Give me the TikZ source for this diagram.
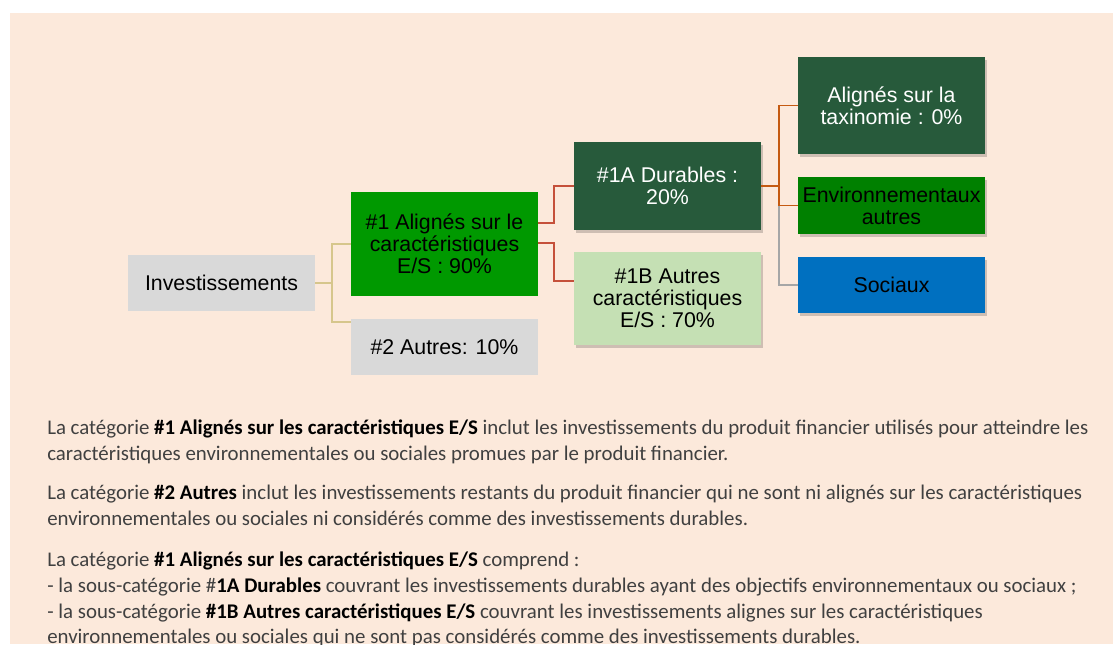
\documentclass[tikz,border=0pt]{standalone}
\usepackage{fontspec}
\setmainfont{Liberation Sans}
\newfontfamily\calibri{Carlito}
\usetikzlibrary{shadows,calc}
\definecolor{bg}{HTML}{FCE9DB}
\definecolor{boxgray}{HTML}{D9D9D9}
\definecolor{greenA}{HTML}{009900}
\definecolor{darkgreen}{HTML}{275A3B}
\definecolor{lightgreen}{HTML}{C5E0B4}
\definecolor{envgreen}{HTML}{008000}
\definecolor{socblue}{HTML}{0070C0}
\definecolor{tanline}{HTML}{D6C68C}
\definecolor{redline}{HTML}{C5503A}
\definecolor{orangeline}{HTML}{C55A11}
\definecolor{grayline}{HTML}{A6A6A6}
\definecolor{txt}{HTML}{404040}
\tikzset{
  boxbase/.style={rectangle, minimum width=140.25pt, inner sep=0pt, align=center,
    font=\fontsize{16}{16.5}\selectfont},
  shad/.style={drop shadow={shadow xshift=1.2pt, shadow yshift=-2.5pt, fill=black, opacity=0.18}},
  conn/.style={line width=1.35pt},
  para/.style={anchor=base west, inner sep=0pt, text=txt, font=\calibri\fontsize{15.65}{19.5}\selectfont},
}
\newcommand{\bb}[1]{{\bfseries\color{black}#1}}
\begin{document}
\begin{tikzpicture}[x=0.75pt,y=-0.75pt]
\useasboundingbox (0,0) rectangle (1113,644);
\fill[white] (0,0) rectangle (1113,644);
\fill[bg] (10,13) rectangle (1113,644);

% nodes
\node[boxbase, fill=boxgray, minimum height=42pt] (inv) at (221.5,283) {Investissements};
\node[boxbase, fill=greenA, minimum height=78pt] (a1) at (444.5,244) {\#1 Alignés sur le\\caractéristiques\\E/S : 90\%};
\node[boxbase, fill=boxgray, minimum height=42pt] (a2) at (444.5,347) {\#2 Autres: 10\%};
\node[boxbase, shad, fill=darkgreen, text=white, minimum height=66pt] (d1a) at (667.5,186) {\#1A Durables :\\20\%};
\node[boxbase, shad, fill=lightgreen, minimum height=69.75pt] (d1b) at (667.5,298.5) {\#1B Autres\\caractéristiques\\E/S : 70\%};
\node[boxbase, shad, fill=darkgreen, text=white, minimum height=72.75pt] (tax) at (891.5,105.5) {Alignés sur la\\taxinomie : 0\%};
\node[boxbase, shad, fill=envgreen, minimum height=42.75pt] (env) at (891.5,205.5) {Environnementaux\\autres};
\node[boxbase, shad, fill=socblue, minimum height=42pt] (soc) at (891.5,285) {Sociaux};

% connectors
\coordinate (j1) at ($(inv.east)+(17,0)$);
\draw[conn, tanline] (inv.east) -- (j1) |- (a1.west);
\draw[conn, tanline] (j1) |- ($(a2.north west)+(0,3)$);

\coordinate (j2) at ($(a1.east)+(16,0)$);
\draw[conn, redline] ($(a1.east)+(0,-21)$) -| (j2 |- d1a.west) -- (d1a.west);
\draw[conn, redline] ($(a1.east)+(0,-1)$) -| (j2 |- 0,281) -- (d1b.west |- 0,281);

\coordinate (j3) at ($(d1a.east)+(18,0)$);
\draw[conn, grayline] (j3 |- env.west) |- (soc.west);
\draw[conn, orangeline] (d1a.east) -- (j3) |- (tax.west);
\draw[conn, orangeline] (j3) |- (env.west);

% text
\node[para] (t1) at (47,434) {La catégorie \bb{\#1 Alignés sur les caractéristiques E/S} inclut les investissements du produit financier utilisés pour atteindre les};
\node[para] (t2) at (47,460) {caractéristiques environnementales ou sociales promues par le produit financier.};
\node[para] (t3) at (47,499) {La catégorie \bb{\#2 Autres} inclut les investissements restants du produit financier qui ne sont ni alignés sur les caractéristiques};
\node[para] (t4) at (47,525) {environnementales ou sociales ni considérés comme des investissements durables.};
\node[para] (t5) at (47,566) {La catégorie \bb{\#1 Alignés sur les caractéristiques E/S} comprend :};
\node[para] (t6) at (47,592) {- la sous-catégorie \#\bb{1A Durables} couvrant les investissements durables ayant des objectifs environnementaux ou sociaux ;};
\node[para] (t7) at (47,618) {- la sous-catégorie \bb{\#1B Autres caractéristiques E/S} couvrant les investissements alignes sur les caractéristiques};
\node[para] (t8) at (47,643) {environnementales ou sociales qui ne sont pas considérés comme des investissements durables.};
\end{tikzpicture}
\end{document}
